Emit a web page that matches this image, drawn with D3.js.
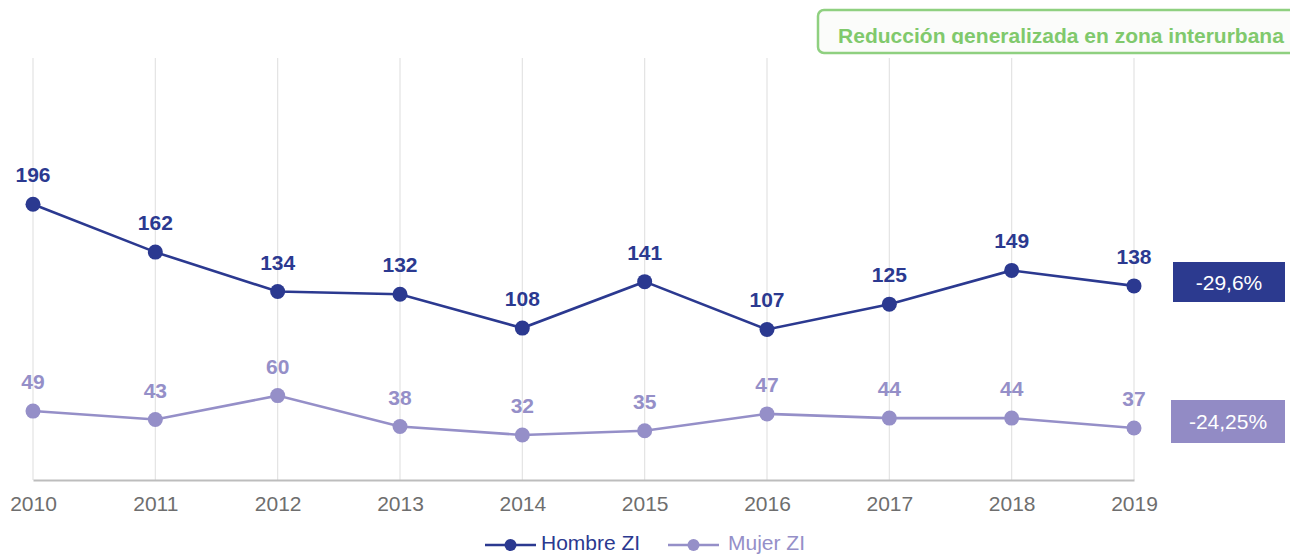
<!DOCTYPE html>
<html>
<head>
<meta charset="utf-8">
<script src="https://cdn.jsdelivr.net/npm/d3@7"></script>
<style>
  html, body { margin: 0; padding: 0; background: #fff; }
  svg { display: block; font-family: "Liberation Sans", Arial, sans-serif; }
</style>
</head>
<body>
<svg id="chart" width="1290" height="555"></svg>
<script>
// Accident victims in interurban zones, by sex, 2010–2019
const years = ["2010", "2011", "2012", "2013", "2014", "2015", "2016", "2017", "2018", "2019"];
const hombre = [196, 162, 134, 132, 108, 141, 107, 125, 149, 138];
const mujer = [49, 43, 60, 38, 32, 35, 47, 44, 44, 37];
const seriesNames = ["Hombre ZI", "Mujer ZI"];
const changes = ["-29,6%", "-24,25%"];
const title = "Reducción generalizada en zona interurbana";

const colors = ["#2b3990", "#958fc8"];
const badgeColors = ["#2c3a8f", "#928bc5"];

const svg = d3.select("#chart");

const x = d3.scalePoint().domain(years).range([33, 1134]);
const y = d3.scaleLinear().domain([0, 300]).range([480, 58]);

// vertical gridlines
svg.append("g")
  .selectAll("line")
  .data(years)
  .join("line")
  .attr("x1", d => x(d)).attr("x2", d => x(d))
  .attr("y1", y(300)).attr("y2", y(0))
  .attr("stroke", "#e3e3e3").attr("stroke-width", 1.2);

// baseline + year labels
const xAxis = svg.append("g")
  .attr("transform", `translate(0,${y(0)})`)
  .call(d3.axisBottom(x).tickSize(0).tickPadding(16));
xAxis.select(".domain").attr("stroke", "#bdbdbd").attr("stroke-width", 2);
xAxis.selectAll("text")
  .attr("fill", "#6e6e6e")
  .style("font-size", "21px")
  .style("font-family", "Liberation Sans, Arial, sans-serif");

const line = d3.line().x((d, i) => x(years[i])).y(d => y(d));

[hombre, mujer].forEach((vals, s) => {
  const g = svg.append("g");
  g.append("path")
    .datum(vals)
    .attr("d", line)
    .attr("fill", "none")
    .attr("stroke", colors[s])
    .attr("stroke-width", 2.6);
  g.selectAll("circle")
    .data(vals)
    .join("circle")
    .attr("cx", (d, i) => x(years[i]))
    .attr("cy", d => y(d))
    .attr("r", 7.5)
    .attr("fill", colors[s]);
  g.selectAll("text")
    .data(vals)
    .join("text")
    .attr("x", (d, i) => x(years[i]))
    .attr("y", d => y(d) - 22)
    .attr("text-anchor", "middle")
    .attr("fill", colors[s])
    .style("font-size", "21px")
    .style("font-weight", "bold")
    .text(d => d);
});

// change badges at the right end of each series
const badges = [
  { x: 1173, y: 262, w: 112, h: 40 },
  { x: 1171, y: 400, w: 114, h: 43 }
];
badges.forEach((b, s) => {
  svg.append("rect")
    .attr("x", b.x).attr("y", b.y)
    .attr("width", b.w).attr("height", b.h)
    .attr("fill", badgeColors[s]);
  svg.append("text")
    .attr("x", b.x + b.w / 2).attr("y", b.y + b.h / 2 + 7.5)
    .attr("text-anchor", "middle")
    .attr("fill", "#fff")
    .style("font-size", "21px")
    .text(changes[s]);
});

// title box (text clipped at the bottom by the box)
const defs = svg.append("defs");
defs.append("clipPath").attr("id", "titleClip")
  .append("rect").attr("x", 818).attr("y", 10).attr("width", 480).attr("height", 34);
svg.append("rect")
  .attr("x", 818).attr("y", 10)
  .attr("width", 490).attr("height", 43)
  .attr("rx", 6)
  .attr("fill", "#fbfcfa")
  .attr("stroke", "#8fd080")
  .attr("stroke-width", 2.5);
svg.append("text")
  .attr("clip-path", "url(#titleClip)")
  .attr("x", 1061).attr("y", 43)
  .attr("text-anchor", "middle")
  .attr("fill", "#80c96c")
  .style("font-size", "21px")
  .style("font-weight", "bold")
  .text(title);

// legend
const legendItems = [
  { x0: 485, text: 541 },
  { x0: 668, text: 728 }
];
legendItems.forEach((l, s) => {
  const g = svg.append("g");
  g.append("line")
    .attr("x1", l.x0).attr("x2", l.x0 + 51)
    .attr("y1", 545).attr("y2", 545)
    .attr("stroke", colors[s]).attr("stroke-width", 2.6);
  g.append("circle")
    .attr("cx", l.x0 + 25.5).attr("cy", 545).attr("r", 6)
    .attr("fill", colors[s]);
  g.append("text")
    .attr("x", l.text).attr("y", 550)
    .attr("fill", colors[s])
    .style("font-size", "21px")
    .text(seriesNames[s]);
});
</script>
</body>
</html>
